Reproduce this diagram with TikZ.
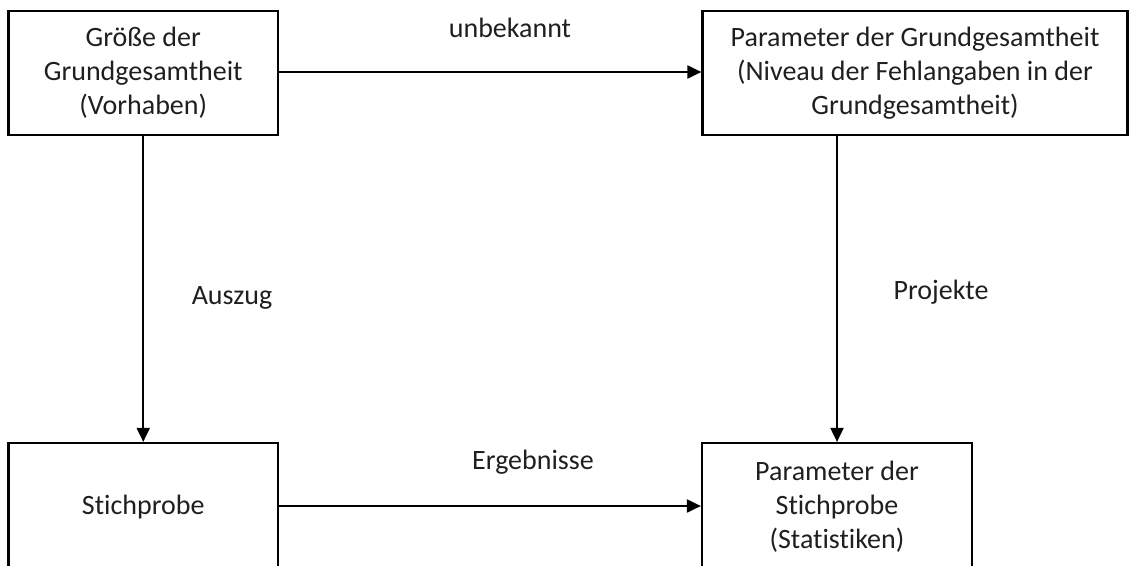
\documentclass[tikz,border=0pt]{standalone}
\usepackage{fontspec}
\setmainfont{Carlito}[Ligatures=NoCommon]
\usetikzlibrary{arrows.meta}
\begin{document}
\begin{tikzpicture}[x=1pt,y=-1pt,
  box/.style={draw=black, line width=2.2pt, align=center, inner sep=0pt,
    font=\fontsize{28}{34}\selectfont, text=black!88},
  conn/.style={line width=2pt, -{Triangle[length=14pt,width=13pt]}},
  lbl/.style={font=\fontsize{28}{34}\selectfont, text=black!88}]
  \useasboundingbox (0,0) rectangle (1132,565);
  \clip (0,0) rectangle (1132,565);

  % boxes
  \node[box, minimum width=269.5pt, minimum height=124pt] (tl) at (143.25,73)
    {Größe der\\Grundgesamtheit\\(Vorhaben)};
  \node[box, minimum width=425pt, minimum height=124pt] (tr) at (915,73)
    {Parameter der Grundgesamtheit\\(Niveau der Fehlangaben in der\\Grundgesamtheit)};
  \node[box, minimum width=269.5pt, minimum height=128pt] (bl) at (143.25,507)
    {Stichprobe};
  \node[box, minimum width=270pt, minimum height=128pt] (br) at (837,507)
    {Parameter der\\Stichprobe\\(Statistiken)};

  % connectors
  \draw[conn] (tl.east |- 0,72) -- (tr.west |- 0,72);
  \draw[conn] (tl.south) -- (bl.north);
  \draw[conn] (br.north |- tr.south) -- (br.north);
  \draw[conn] (bl.east |- 0,506) -- (br.west |- 0,506);

  % labels
  \node[lbl] (l1) at (510,28) {unbekannt};
  \node[lbl] (l2) at (533,462) {Ergebnisse};
  \node[lbl] (l3) at (232,298) {Auszug};
  \node[lbl] (l4) at (941,292) {Projekte};
\end{tikzpicture}
\end{document}
